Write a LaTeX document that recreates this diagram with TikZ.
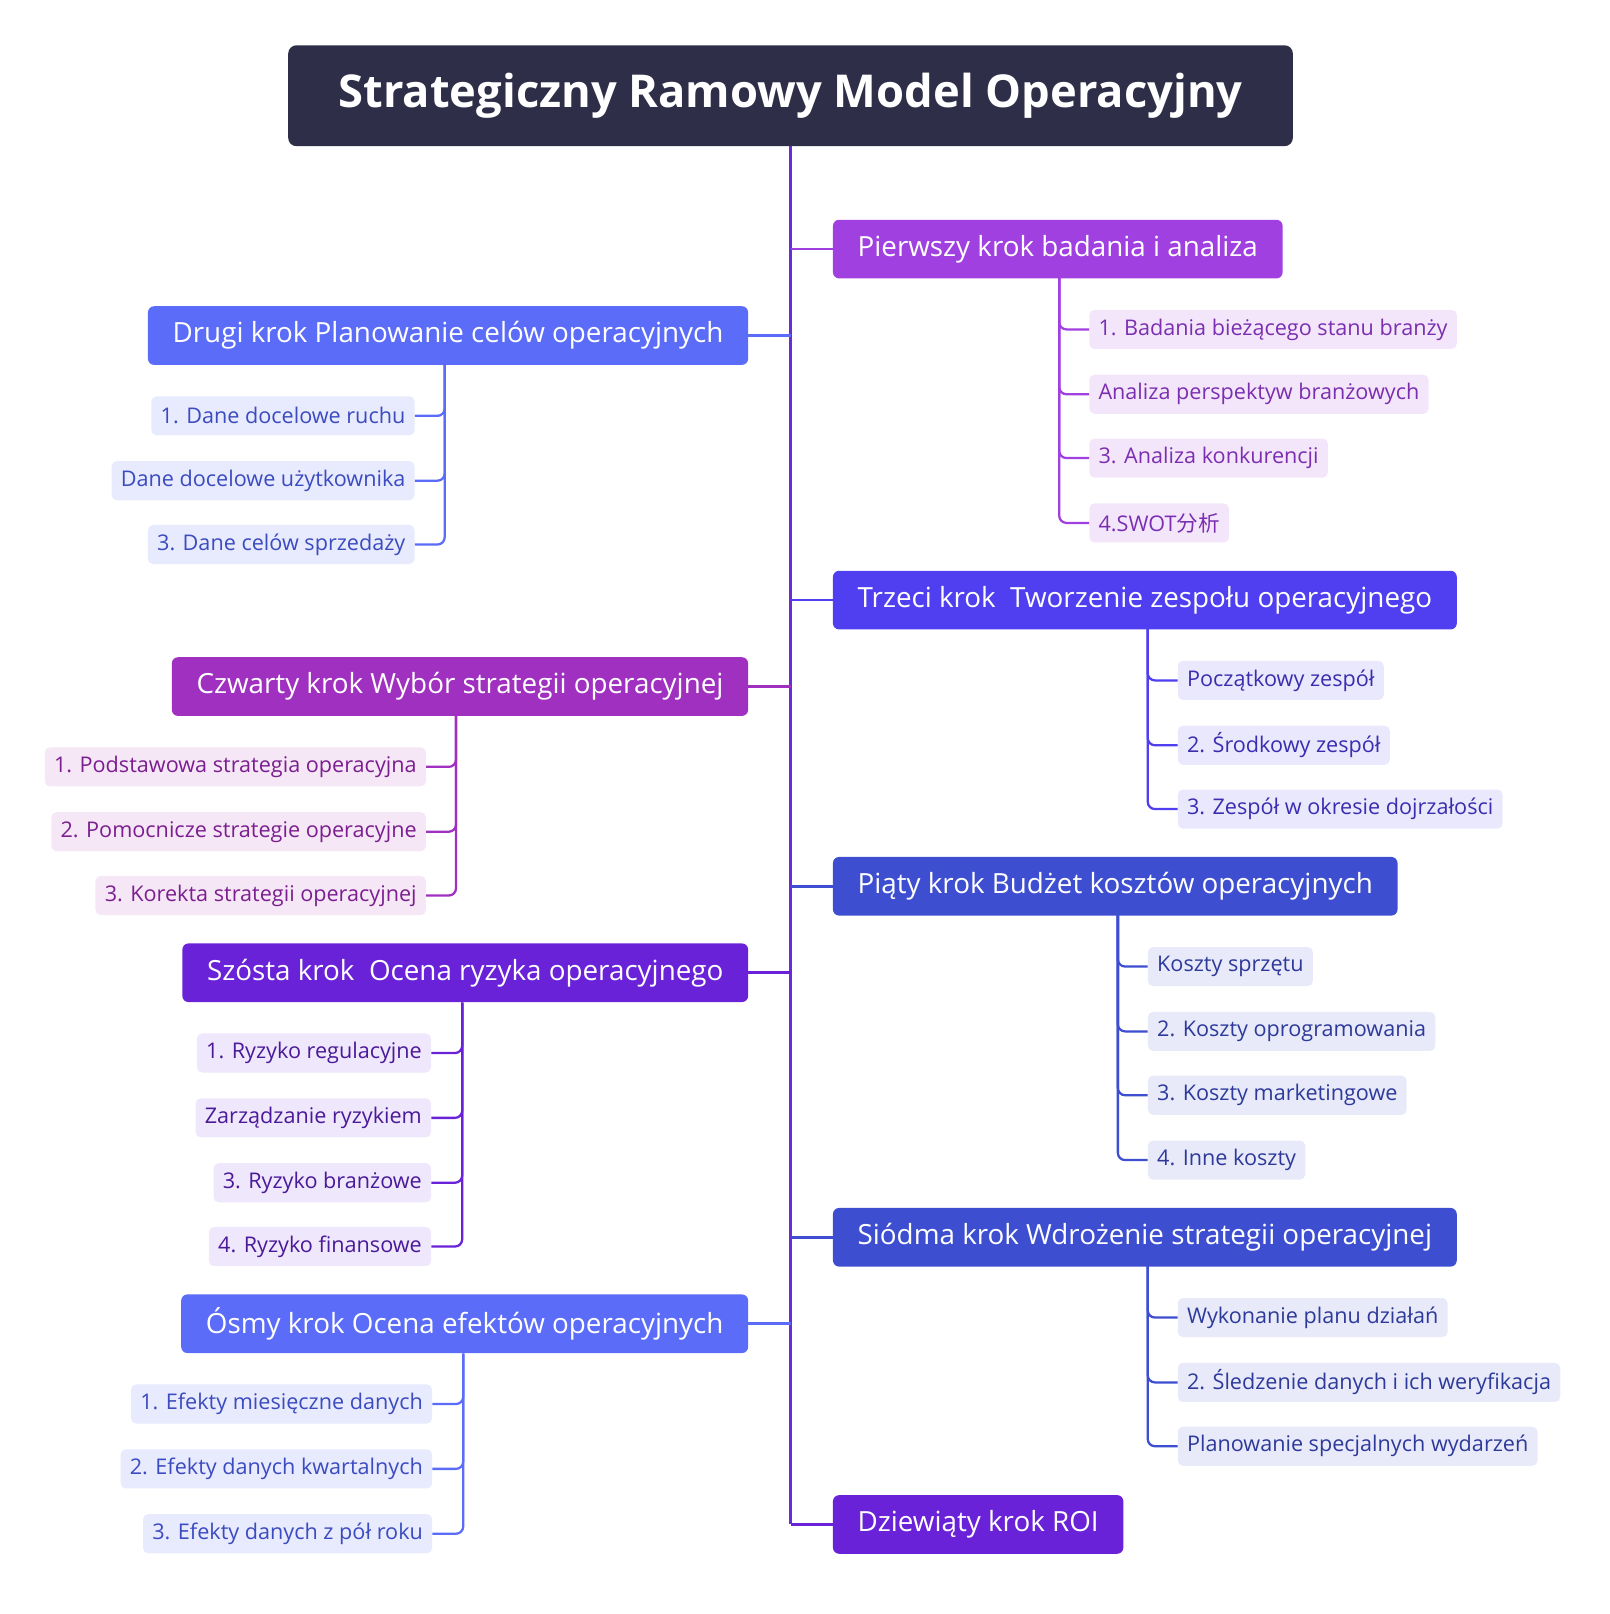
\documentclass[tikz,border=0pt]{standalone}
\usepackage{fontspec}
\setmainfont{Open Sans}
\newfontfamily\cjk{Noto Sans CJK SC}
\begin{document}
\begin{tikzpicture}[x=1pt,y=-1pt,
 title/.style={fill=c0,text=white,rounded corners=8pt,minimum height=98pt,minimum width=976pt,font=\fontsize{44}{48}\selectfont\bfseries},
 br/.style={fill=#1,text=white,rounded corners=6pt,minimum height=57pt,inner xsep=24pt,font=\fontsize{27}{30}\selectfont},
 lf/.style n args={2}{fill=#1,text=#2,rounded corners=5pt,minimum height=38pt,inner xsep=9pt,font=\fontsize{21}{24}\selectfont},
 cn/.style={draw=#1,line width=2.2pt,rounded corners=7pt}]
\definecolor{c0}{HTML}{2E2E48}
\definecolor{tr}{HTML}{6A2BD9}
\definecolor{b1}{HTML}{A040E0}\definecolor{l1}{HTML}{F3E6FB}\definecolor{t1}{HTML}{7B2FB0}
\definecolor{b3}{HTML}{4F3FF0}\definecolor{l3}{HTML}{EAE8FD}\definecolor{t3}{HTML}{3A2DB0}
\definecolor{b5}{HTML}{3D4FD0}\definecolor{l5}{HTML}{E8EAFA}\definecolor{t5}{HTML}{2E3A9A}
\definecolor{b9}{HTML}{6A22D8}
\definecolor{b2}{HTML}{5B6CF8}\definecolor{l2}{HTML}{E8EAFD}\definecolor{t2}{HTML}{3B4BC0}
\definecolor{b4}{HTML}{A030C0}\definecolor{l4}{HTML}{F6E7F6}\definecolor{t4}{HTML}{7B1F90}
\definecolor{b6}{HTML}{6A22D8}\definecolor{l6}{HTML}{EFE7FB}\definecolor{t6}{HTML}{4A1A99}
\useasboundingbox (0,0) rectangle (1564,1568);
\node[title] (T) at (768,93) {Strategiczny Ramowy Model Operacyjny};
\coordinate (tb) at (768,1481);
\draw[tr,line width=3pt] (T.south) -- (tb);
% right branches
\node[br=b1,anchor=west] (B1) at (809,242) {Pierwszy krok badania i analiza};
\node[br=b3,anchor=west] (B3) at (809,583) {Trzeci krok\ \ Tworzenie zespołu operacyjnego};
\node[br=b5,anchor=west] (B5) at (809,861) {Piąty krok Budżet kosztów operacyjnych};
\node[br=b5,anchor=west] (B7) at (809,1202) {Siódma krok Wdrożenie strategii operacyjnej};
\node[br=b9,anchor=west] (B9) at (809,1481) {Dziewiąty krok ROI};
% left branches
\node[br=b2,anchor=east] (B2) at (727,326) {Drugi krok Planowanie celów operacyjnych};
\node[br=b4,anchor=east] (B4) at (727,667) {Czwarty krok Wybór strategii operacyjnej};
\node[br=b6,anchor=east] (B6) at (727,945) {Szósta krok\ \ Ocena ryzyka operacyjnego};
\node[br=b2,anchor=east] (B8) at (727,1286) {Ósmy krok Ocena efektów operacyjnych};
\foreach \b/\c/\y in {B1/b1/242,B3/b3/583,B5/b5/861,B7/b5/1202,B9/b9/1481,B2/b2/326,B4/b4/667,B6/b6/945,B8/b2/1286}
  \draw[\c,line width=2.5pt] (768,\y) -- (\b);
% leaves
\newcommand\leafR[6]{\node[lf={#3}{#4},anchor=west] (#1) at (#5) {#6};}
\leafR{L11}{}{l1}{t1}{1058,320}{1. Badania bieżącego stanu branży}
\leafR{L12}{}{l1}{t1}{1058,383}{Analiza perspektyw branżowych}
\leafR{L13}{}{l1}{t1}{1058,445}{3. Analiza konkurencji}
\leafR{L14}{}{l1}{t1}{1058,508}{4.SWOT{\cjk 分析}}
\foreach \l in {L11,L12,L13,L14} \draw[cn=b1] (1029,270) |- (\l.west);
\leafR{L31}{}{l3}{t3}{1144,661}{Początkowy zespół}
\leafR{L32}{}{l3}{t3}{1144,724}{2. Środkowy zespół}
\leafR{L33}{}{l3}{t3}{1144,786}{3. Zespół w okresie dojrzałości}
\foreach \l in {L31,L32,L33} \draw[cn=b3] (1115,611) |- (\l.west);
\leafR{L51}{}{l5}{t5}{1115,939}{Koszty sprzętu}
\leafR{L52}{}{l5}{t5}{1115,1002}{2. Koszty oprogramowania}
\leafR{L53}{}{l5}{t5}{1115,1064}{3. Koszty marketingowe}
\leafR{L54}{}{l5}{t5}{1115,1127}{4. Inne koszty}
\foreach \l in {L51,L52,L53,L54} \draw[cn=b5] (1086,889) |- (\l.west);
\leafR{L71}{}{l5}{t5}{1144,1280}{Wykonanie planu działań}
\leafR{L72}{}{l5}{t5}{1144,1343}{2. Śledzenie danych i ich weryfikacja}
\leafR{L73}{}{l5}{t5}{1144,1405}{Planowanie specjalnych wydarzeń}
\foreach \l in {L71,L72,L73} \draw[cn=b5] (1115,1230) |- (\l.west);
\newcommand\leafL[5]{\node[lf={#2}{#3},anchor=east] (#1) at (#4) {#5};}
\leafL{L21}{l2}{t2}{403,404}{1. Dane docelowe ruchu}
\leafL{L22}{l2}{t2}{403,467}{Dane docelowe użytkownika}
\leafL{L23}{l2}{t2}{403,529}{3. Dane celów sprzedaży}
\foreach \l in {L21,L22,L23} \draw[cn=b2] (432,354) |- (\l.east);
\leafL{L41}{l4}{t4}{414,745}{1. Podstawowa strategia operacyjna}
\leafL{L42}{l4}{t4}{414,808}{2. Pomocnicze strategie operacyjne}
\leafL{L43}{l4}{t4}{414,870}{3. Korekta strategii operacyjnej}
\foreach \l in {L41,L42,L43} \draw[cn=b4] (443,695) |- (\l.east);
\leafL{L61}{l6}{t6}{419,1023}{1. Ryzyko regulacyjne}
\leafL{L62}{l6}{t6}{419,1086}{Zarządzanie ryzykiem}
\leafL{L63}{l6}{t6}{419,1149}{3. Ryzyko branżowe}
\leafL{L64}{l6}{t6}{419,1211}{4. Ryzyko finansowe}
\foreach \l in {L61,L62,L63,L64} \draw[cn=b6] (449,974) |- (\l.east);
\leafL{L81}{l2}{t2}{420,1364}{1. Efekty miesięczne danych}
\leafL{L82}{l2}{t2}{420,1427}{2. Efekty danych kwartalnych}
\leafL{L83}{l2}{t2}{420,1490}{3. Efekty danych z pół roku}
\foreach \l in {L81,L82,L83} \draw[cn=b2] (450,1315) |- (\l.east);
\end{tikzpicture}
\end{document}
